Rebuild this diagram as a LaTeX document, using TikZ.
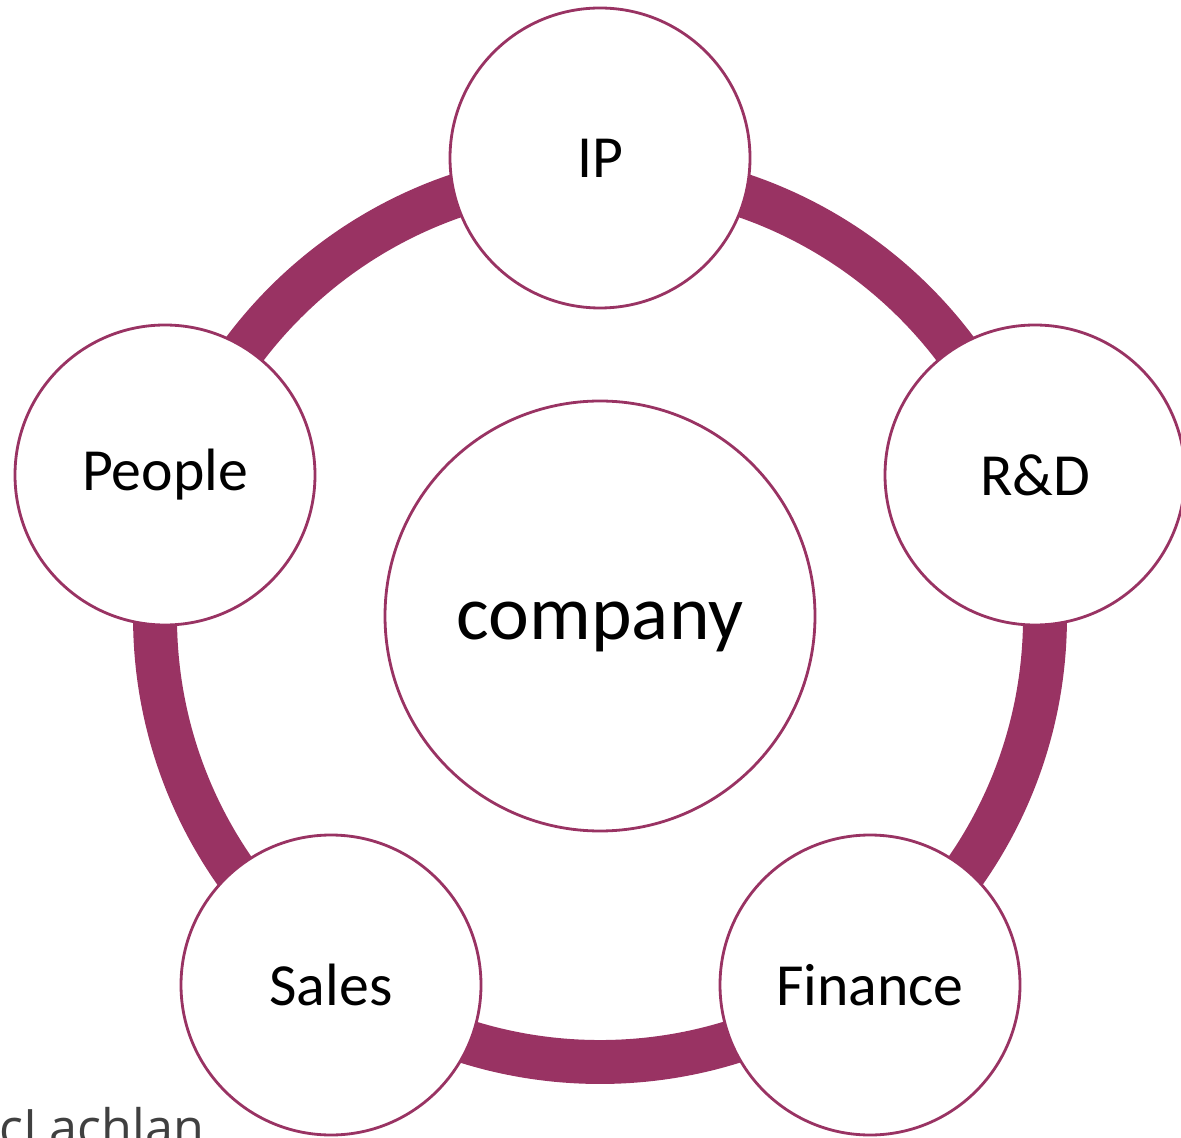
\documentclass[tikz,border=0pt]{standalone}
\usepackage{fontspec}
\setmainfont{Carlito}
\newfontfamily\markfont{Open Sans}
\usepackage{tikz}

\definecolor{plum}{RGB}{153,51,99}

\begin{document}
\begin{tikzpicture}
	\useasboundingbox (0,0) rectangle (11.81,11.37);
	\tikzset{
		part/.style={shape=circle,draw=plum,fill=white,line width=0.8pt,inner sep=0pt,minimum size=3cm,font=\fontsize{17}{20}\selectfont},
		ring/.style={draw=plum,line width=12.5pt}
	}
	
	\node[shape=circle,draw=plum,line width=0.8pt,inner sep=0pt,minimum size=4.3cm,text height=0.46cm,text depth=0pt,font=\fontsize{22}{26}\selectfont] (company) at (6.00, 5.21) {company};
	
	\draw[ring] (6.00, 5.20) circle (4.45);
	
	\node[part] (ip)      at (6.00, 9.79)  {IP};
	\node[part] (rd)      at (10.35, 6.62) {R\&D};
	\node[part] (people)  at (1.65, 6.62)  {People};
	\node[part] (sales)   at (3.31, 1.52)  {Sales};
	\node[part] (finance) at (8.70, 1.52)  {Finance};
	
	\node[anchor=base west,inner sep=0pt,text=black!75,font=\markfont\fontsize{14.3}{17}\selectfont] (mark) at (-0.01, -0.08) {cLachlan};
\end{tikzpicture}
\end{document}
